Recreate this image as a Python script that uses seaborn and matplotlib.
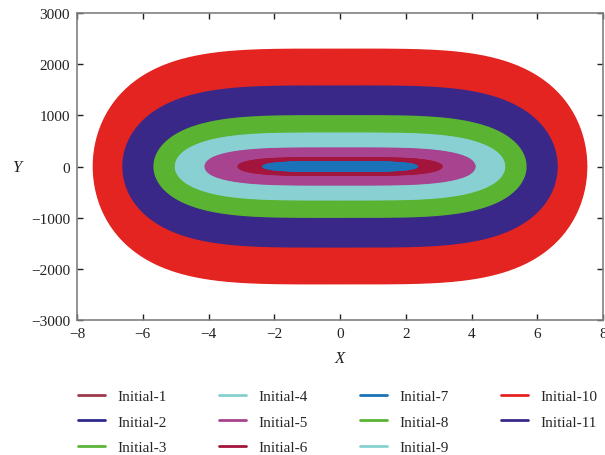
import numpy as np
import pandas as pd
import matplotlib
matplotlib.use("Agg")
import matplotlib.pyplot as plt
import seaborn as sns

# Trajectory families, one per initial condition
series = ["Initial-1", "Initial-2", "Initial-3", "Initial-4", "Initial-5", "Initial-6",
          "Initial-7", "Initial-8", "Initial-9", "Initial-10", "Initial-11"]
colors = ["#9b3a4a", "#2e2a8a", "#5cb53a", "#86cfd0", "#a8448f", "#a3153c",
          "#1a72b8", "#5ab432", "#88d0d2", "#e42420", "#3a2888"]

# Band of closed orbits swept by each family: X half-width and Y half-height
# of the innermost and outermost orbit, and how many orbits are traced
inner_x = [6.6, 5.8, 5.0, 4.1, 3.1, 2.35, 0.3, 5.1, 4.2, 6.5, 5.7]
inner_y = [1550, 1050, 650, 380, 170, 90, 5, 660, 390, 1480, 1020]
outer_x = [7.3, 6.5, 5.7, 5.0, 4.1, 3.1, 2.35, 5.7, 5.0, 7.5, 6.6]
outer_y = [2200, 1550, 1020, 650, 380, 170, 90, 1020, 650, 2290, 1570]
n_orbits = [30, 30, 30, 36, 42, 32, 90, 30, 36, 55, 40]

# Axis ticks
x_ticks = [-8, -6, -4, -2, 0, 2, 4, 6, 8]
y_ticks = [-3000, -2000, -1000, 0, 1000, 2000, 3000]

sns.set_theme(style="ticks")
plt.rcParams["font.family"] = ["Liberation Serif", "DejaVu Serif"]
plt.rcParams["axes.unicode_minus"] = True

t = np.linspace(0, 2 * np.pi, 361)
c, s = np.cos(t), np.sin(t)
frames = []
for name, ax0, ay0, ax1, ay1, n in zip(series, inner_x, inner_y, outer_x, outer_y, n_orbits):
    for k, f in enumerate(np.linspace(0, 1, n)):
        a = ax0 + (ax1 - ax0) * f
        b = ay0 + (ay1 - ay0) * f
        frames.append(pd.DataFrame({
            "X": a * np.sign(c) * np.abs(c) ** 0.5,
            "Y": b * s,
            "series": name,
            "orbit": k,
        }))
df = pd.concat(frames, ignore_index=True)

fig = plt.figure(figsize=(6.05, 4.56), dpi=100)
ax = fig.add_axes([0.1273, 0.296, 0.8694, 0.6733])

sns.lineplot(data=df, x="X", y="Y", hue="series", hue_order=series,
             palette=dict(zip(series, colors)), units="orbit", estimator=None,
             sort=False, linewidth=1.1, ax=ax, legend=False)

ax.set_xlim(-8, 8)
ax.set_ylim(-3000, 3000)
ax.set_xticks(x_ticks)
ax.set_yticks(y_ticks)
ax.tick_params(direction="in", length=4, width=1, colors="#222222",
               top=True, right=True, labelsize=11, pad=5)
for sp in ax.spines.values():
    sp.set_color("#808080")
    sp.set_linewidth(1.2)
    sp.set_visible(True)

ax.set_xlabel("X", fontstyle="italic", fontsize=12, labelpad=7, color="#222222")
ax.set_ylabel("Y", fontstyle="italic", fontsize=12, rotation=0,
              va="center", ha="center", color="#222222")
ax.yaxis.set_label_coords(-0.115, 0.5)

handles = [plt.Line2D([], [], color=col, lw=2.0) for col in colors]
ax.legend(handles, series, loc="upper left", bbox_to_anchor=(0.001, -0.226),
          ncol=4, frameon=False, fontsize=11, handlelength=1.8,
          handletextpad=0.8, columnspacing=3.4, labelspacing=0.78,
          borderaxespad=0, borderpad=0)

fig.savefig("out.png", dpi=100)
